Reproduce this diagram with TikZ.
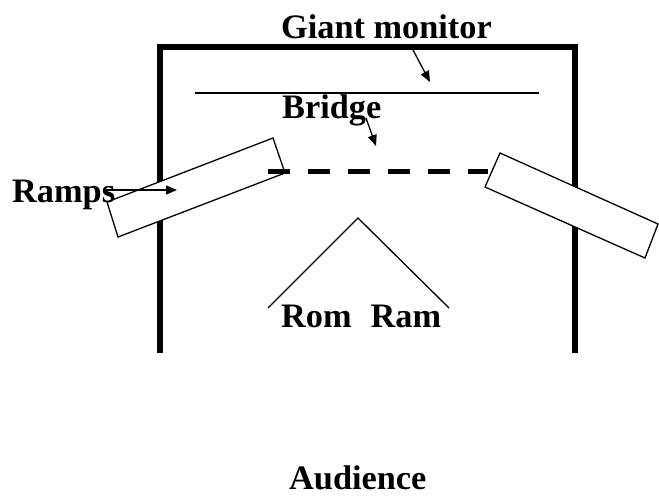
\documentclass[tikz,border=0pt]{standalone}
\usepackage{fontspec}
\setmainfont{Liberation Serif}
\usetikzlibrary{arrows.meta}
\tikzset{
  lbl/.style={anchor=base west, inner sep=0pt, font=\fontsize{34.3}{40}\selectfont\bfseries},
  thinline/.style={line width=1.3pt},
  framewall/.style={line width=6pt, line join=miter},
  rampbox/.style={thinline, fill=white, line join=miter},
  bridgedash/.style={line width=5pt, dash pattern=on 22pt off 18pt},
  pointer/.style={thinline, -{Triangle[length=11pt,width=9pt]}}
}
\begin{document}
\begin{tikzpicture}[x=1pt,y=-1pt]
\useasboundingbox (0,0) rectangle (659,496);
% frame
\draw[framewall] (160,353) -- (160,47) -- (575,47) -- (575,353);
% giant monitor line
\coordinate (monL) at (195,93);
\coordinate (monR) at (539,93);
\draw[thinline] (monL) -- (monR);
% ramps
\draw[rampbox] (107,202) -- (273,138) -- (285,173) -- (118,237) -- cycle;
\draw[rampbox] (500,153) -- (658,224) -- (645,258) -- (485,187) -- cycle;
% bridge
\coordinate (brL) at (268,171);
\coordinate (brR) at (488,171);
\draw[bridgedash] (brL) -- (brR);
% roof
\coordinate (roofL) at (268,308);
\coordinate (roofT) at (358,218);
\coordinate (roofR) at (449,308);
\draw[thinline] (roofL) -- (roofT) -- (roofR);
% labels
\node[lbl] (giant) at (281,38) {Giant monitor};
\node[lbl] (bridge) at (282,118) {Bridge};
\node[lbl] (ramps) at (12,202) {Ramps};
\node[lbl] (romram) at (281,327) {Rom\hspace{19pt}Ram};
\node[lbl] (aud) at (289,489) {Audience};
% pointers
\coordinate (gmS) at (413,50);
\coordinate (gmT) at (430,82);
\draw[pointer] (gmS) -- (gmT);
\coordinate (brS) at (366,118);
\coordinate (brT) at (376,146);
\draw[pointer] (brS) -- (brT);
\coordinate (rpS) at (104,190);
\coordinate (rpT) at (177,190);
\draw[pointer] (rpS) -- (rpT);
\end{tikzpicture}
\end{document}
